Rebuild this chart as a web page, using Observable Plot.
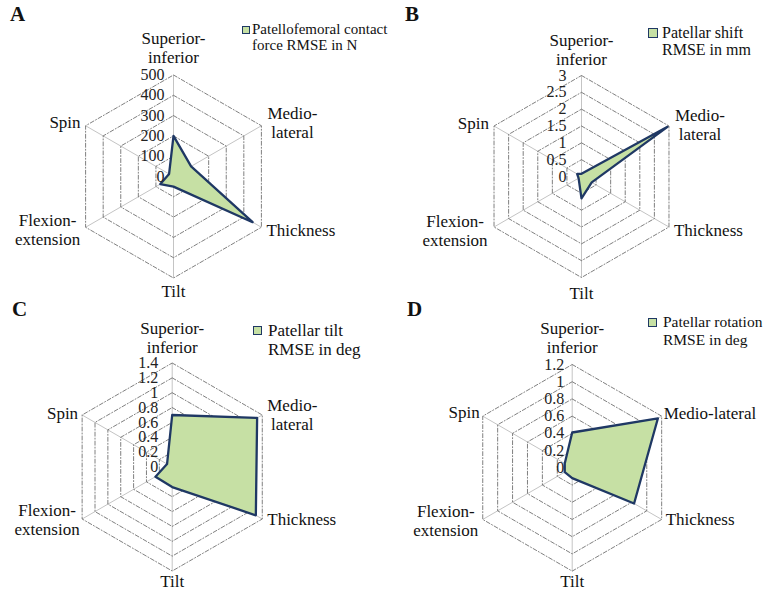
<!DOCTYPE html>
<html>
<head>
<meta charset="utf-8">
<script src="https://cdn.jsdelivr.net/npm/d3@7"></script>
<script src="https://cdn.jsdelivr.net/npm/@observablehq/plot@0.6"></script>
<style>
  html, body { margin: 0; padding: 0; background: #fff; }
  #root { position: relative; width: 769px; height: 595px; overflow: hidden; background: #fff; font-family: 'Liberation Serif', 'DejaVu Serif', serif; color: #111; }
  #root svg text { font-family: 'Liberation Serif', 'DejaVu Serif', serif; }
  .panel { position: absolute; }
  .letter { position: absolute; font-weight: bold; font-size: 21px; line-height: 1; font-family: 'Liberation Serif', 'DejaVu Serif', serif; }
  .lgbox { position: absolute; background: #c6e0a4; border: 1.5px solid #1f3864; box-sizing: border-box; }
  .lgtext { position: absolute; white-space: pre; font-family: 'Liberation Serif', 'DejaVu Serif', serif; }
</style>
</head>
<body>
<div id="root"></div>
<script>
// ---- Data ----
const axisLabels = ["Superior-\ninferior", "Medio-\nlateral", "Thickness", "Tilt", "Flexion-\nextension", "Spin"];
const axisLabelsD = ["Superior-\ninferior", "Medio-lateral", "Thickness", "Tilt", "Flexion-\nextension", "Spin"];

const ticksA = [0, 100, 200, 300, 400, 500];
const ticksB = [0, 0.5, 1, 1.5, 2, 2.5, 3];
const ticksC = [0, 0.2, 0.4, 0.6, 0.8, 1, 1.2, 1.4];
const ticksD = [0, 0.2, 0.4, 0.6, 0.8, 1, 1.2];

// order: Superior-inferior, Medio-lateral, Thickness, Tilt, Flexion-extension, Spin
const valuesA = [200, 100, 450, 50, 75, 25];
const valuesB = [0.08, 2.95, 0.35, 0.65, 0.1, 0.15];
const valuesC = [0.7, 1.32, 1.3, 0.27, 0.26, 0.08];
const valuesD = [0.41, 1.15, 0.83, 0.12, 0.1, 0.1];

const legendA = "Patellofemoral contact\nforce RMSE in N";
const legendB = "Patellar shift\nRMSE in mm";
const legendC = "Patellar tilt\nRMSE in deg";
const legendD = "Patellar rotation\nRMSE in deg";

const panelLetters = ["A", "B", "C", "D"];

// ---- Layout (positions / sizes only; legend & letter coords are page-absolute) ----
const panels = [
  { letter: panelLetters[0], labels: axisLabels, ticks: ticksA, values: valuesA, legend: legendA,
    left: 0, top: 0, W: 385, H: 295, cx: 173, cy: 176, R: 101.5, tickDx: -9,
    off: [{dx:0,dy:-28},{dx:31,dy:-3},{dx:5,dy:3},{dx:0,dy:13},{dx:-38,dy:2},{dx:-5,dy:-4}],
    letterPos: [10, 4], lg: { bx: 242, by: 26, bs: 8, tx: 252, ty: 21, fs: 15, lh: 16 } },
  { letter: panelLetters[1], labels: axisLabels, ticks: ticksB, values: valuesB, legend: legendB,
    left: 385, top: 0, W: 384, H: 295, cx: 196, cy: 176, R: 101, tickDx: -15,
    off: [{dx:0,dy:-26},{dx:31,dy:-2},{dx:5,dy:3},{dx:0,dy:15},{dx:-39,dy:3},{dx:-5,dy:-3}],
    letterPos: [405, 4], lg: { bx: 648, by: 28, bs: 10, tx: 662, ty: 24, fs: 16, lh: 17 } },
  { letter: panelLetters[2], labels: axisLabels, ticks: ticksC, values: valuesC, legend: legendC,
    left: 0, top: 295, W: 385, H: 300, cx: 171.7, cy: 171.5, R: 104, tickDx: -14,
    off: [{dx:0,dy:-26},{dx:30,dy:-1},{dx:5,dy:0},{dx:0,dy:10},{dx:-35,dy:0},{dx:-4,dy:-2}],
    letterPos: [12, 299], lg: { bx: 253, by: 326, bs: 9, tx: 268, ty: 321, fs: 17, lh: 19 } },
  { letter: panelLetters[3], labels: axisLabelsD, ticks: ticksD, values: valuesD, legend: legendD,
    left: 385, top: 295, W: 384, H: 300, cx: 186.7, cy: 172.3, R: 103.3, tickDx: -8,
    off: [{dx:0,dy:-27},{dx:2,dy:-3},{dx:4,dy:-1},{dx:0,dy:10},{dx:-37,dy:1},{dx:-3,dy:-4}],
    letterPos: [407, 299], lg: { bx: 648, by: 318, bs: 9, tx: 663, ty: 313, fs: 15.5, lh: 18 } }
];

const anchors = ["middle", "middle", "start", "middle", "middle", "end"];
const FONT = "'Liberation Serif', 'DejaVu Serif', serif";

function radar(p, idx) {
  const n = p.labels.length;
  const max = p.ticks[p.ticks.length - 1];
  const ang = i => i * 2 * Math.PI / n;
  const pt = (i, r) => ({ x: r * Math.sin(ang(i)), y: r * Math.cos(ang(i)) });
  const rings = p.ticks.slice(1).flatMap(t => d3.range(n).map(i => ({ ring: t, ...pt(i, t / max) })));
  const spokes = d3.range(n).map(i => ({ i, ...pt(i, 1) }));
  const poly = p.values.map((v, i) => pt(i, v / max));
  const labelMarks = p.labels.map((lab, i) => {
    let ta = anchors[i];
    if (idx === 3 && i === 1) ta = "start";
    return Plot.text([{ text: lab, ...pt(i, 1) }], {
      x: "x", y: "y", text: "text", textAnchor: ta, lineAnchor: "middle",
      lineHeight: 1.12, dx: p.off[i].dx, dy: p.off[i].dy, fontSize: 17, fill: "#111", fontFamily: FONT
    });
  });
  return Plot.plot({
    width: p.W, height: p.H,
    marginTop: 0, marginRight: 0, marginBottom: 0, marginLeft: 0,
    x: { domain: [-p.cx / p.R, (p.W - p.cx) / p.R], range: [0, p.W], axis: null },
    y: { domain: [-(p.H - p.cy) / p.R, p.cy / p.R], range: [p.H, 0], axis: null },
    style: { fontFamily: FONT, background: "transparent", overflow: "visible" },
    marks: [
      Plot.link(spokes, { x1: 0, y1: 0, x2: "x", y2: "y", stroke: "#c4c4c4", strokeWidth: 1 }),
      Plot.line(rings, { x: "x", y: "y", z: "ring", curve: "linear-closed", stroke: "#606060", strokeWidth: 0.8, strokeDasharray: "4,2,1,2" }),
      Plot.line(poly, { x: "x", y: "y", curve: "linear-closed", fill: "#c6e0a4", stroke: "#1f3864", strokeWidth: 2.3, strokeLinejoin: "round" }),
      Plot.text(p.ticks, { x: 0, y: d => d / max, text: d => String(d), textAnchor: "end", lineAnchor: "middle", dx: p.tickDx, fontSize: 16, fill: "#222", fontFamily: FONT }),
      ...labelMarks
    ]
  });
}

const root = document.getElementById("root");
panels.forEach((p, idx) => {
  const svg = radar(p, idx);
  svg.style.position = "absolute";
  svg.style.left = p.left + "px";
  svg.style.top = p.top + "px";
  root.appendChild(svg);

  const letter = document.createElement("div");
  letter.className = "letter";
  letter.textContent = p.letter;
  letter.style.left = p.letterPos[0] + "px";
  letter.style.top = p.letterPos[1] + "px";
  root.appendChild(letter);

  const box = document.createElement("div");
  box.className = "lgbox";
  box.style.left = p.lg.bx + "px";
  box.style.top = p.lg.by + "px";
  box.style.width = p.lg.bs + "px";
  box.style.height = p.lg.bs + "px";
  root.appendChild(box);

  const txt = document.createElement("div");
  txt.className = "lgtext";
  txt.textContent = p.legend;
  txt.style.left = p.lg.tx + "px";
  txt.style.top = p.lg.ty + "px";
  txt.style.fontSize = p.lg.fs + "px";
  txt.style.lineHeight = p.lg.lh + "px";
  root.appendChild(txt);
});
</script>
</body>
</html>
